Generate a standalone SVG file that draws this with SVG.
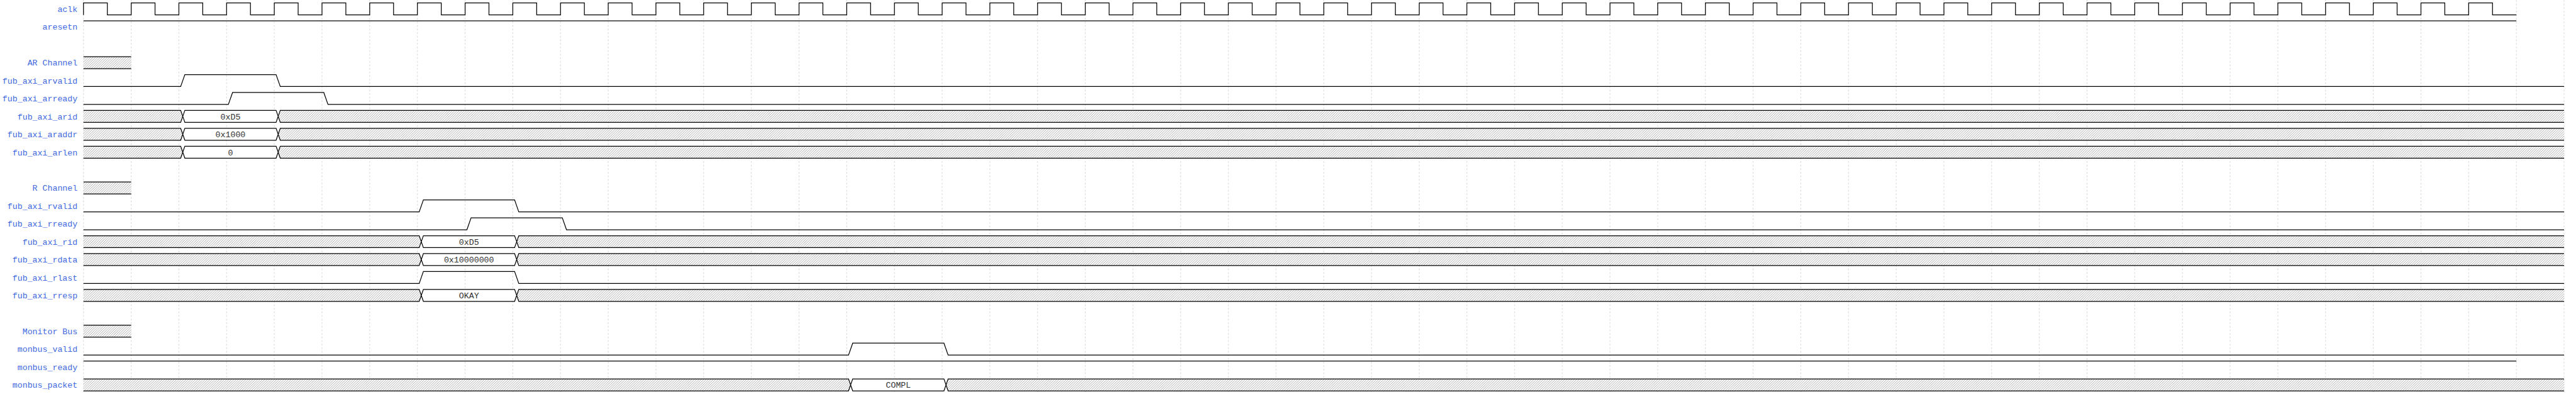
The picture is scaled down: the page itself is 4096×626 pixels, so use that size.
<svg xmlns="http://www.w3.org/2000/svg" width="4096" height="626" viewBox="0 0 4096 626">
<style>
.lbl{font-family:"Liberation Mono","DejaVu Sans Mono",monospace;font-size:14px;fill:#4169e1;text-anchor:end}
.dt{font-family:"Liberation Mono","DejaVu Sans Mono",monospace;font-size:14px;fill:#333;text-anchor:middle}
.w{fill:none;stroke:#000;stroke-width:1.3}
.h{fill:url(#hatch);stroke:none}
.d{fill:#fff;stroke:none}
.grid{fill:none;stroke:#d6d6d6;stroke-width:1;stroke-dasharray:3,3}
</style>
<defs>
<pattern id="hatch" width="4" height="4" patternUnits="userSpaceOnUse"><rect width="4" height="4" fill="#fff"/><path d="M-1,1l2,-2M0,4l4,-4M3,5l2,-2" stroke="#777" stroke-width="0.7"/></pattern>
</defs>
<rect width="4096" height="626" fill="#fff"/>
<g transform="scale(0.948148)">
<g id="connectors">
<path id="grid" class="grid" d="M140,0v660
m80,-660v660 m80,-660v660 m80,-660v660 m80,-660v660 m80,-660v660 m80,-660v660 m80,-660v660 m80,-660v660 m80,-660v660 m80,-660v660
m80,-660v660 m80,-660v660 m80,-660v660 m80,-660v660 m80,-660v660 m80,-660v660 m80,-660v660 m80,-660v660 m80,-660v660 m80,-660v660
m80,-660v660 m80,-660v660 m80,-660v660 m80,-660v660 m80,-660v660 m80,-660v660 m80,-660v660 m80,-660v660 m80,-660v660 m80,-660v660
m80,-660v660 m80,-660v660 m80,-660v660 m80,-660v660 m80,-660v660 m80,-660v660 m80,-660v660 m80,-660v660 m80,-660v660 m80,-660v660
m80,-660v660 m80,-660v660 m80,-660v660 m80,-660v660 m80,-660v660 m80,-660v660 m80,-660v660 m80,-660v660 m80,-660v660 m80,-660v660
m80,-660v660 m80,-660v660"/>
</g>
<g id="aclk">
<text class="lbl" x="130" y="20">aclk</text>
<path class="w" d="M140,25
v-20h40v20h40 v-20h40v20h40 v-20h40v20h40 v-20h40v20h40 v-20h40v20h40 v-20h40v20h40 v-20h40v20h40 v-20h40v20h40 v-20h40v20h40 v-20h40v20h40
v-20h40v20h40 v-20h40v20h40 v-20h40v20h40 v-20h40v20h40 v-20h40v20h40 v-20h40v20h40 v-20h40v20h40 v-20h40v20h40 v-20h40v20h40 v-20h40v20h40
v-20h40v20h40 v-20h40v20h40 v-20h40v20h40 v-20h40v20h40 v-20h40v20h40 v-20h40v20h40 v-20h40v20h40 v-20h40v20h40 v-20h40v20h40 v-20h40v20h40
v-20h40v20h40 v-20h40v20h40 v-20h40v20h40 v-20h40v20h40 v-20h40v20h40 v-20h40v20h40 v-20h40v20h40 v-20h40v20h40 v-20h40v20h40 v-20h40v20h40
v-20h40v20h40 v-20h40v20h40 v-20h40v20h40 v-20h40v20h40 v-20h40v20h40 v-20h40v20h40 v-20h40v20h40 v-20h40v20h40 v-20h40v20h40 v-20h40v20h40
v-20h40v20h40"/>
</g>
<g id="aresetn">
<text class="lbl" x="130" y="50">aresetn</text>
<path class="w" d="M140,35H4220"/>
</g>
<g id="ar_channel">
<text class="lbl" x="130" y="110">AR Channel</text>
<rect class="h" x="140" y="95" width="80" height="20"/>
<path class="w" d="M140,95H220M140,115H220"/>
</g>
<g id="fub_axi_arvalid">
<text class="lbl" x="130" y="140">fub_axi_arvalid</text>
<path class="w" d="M140,145H303L310,125H463L470,145H4300"/>
</g>
<g id="fub_axi_arready">
<text class="lbl" x="130" y="170">fub_axi_arready</text>
<path class="w" d="M140,175H383L390,155H543L550,175H4300"/>
</g>
<g id="fub_axi_arid">
<text class="lbl" x="130" y="200">fub_axi_arid</text>
<path class="h" d="M140,185H303L306.5,195L303,205H140Z"/>
<path class="h" d="M466.5,195L470,185H4300V205H470Z"/>
<path class="d" d="M306.5,195L310,185H463L466.5,195L463,205H310Z"/>
<path class="w" d="M140,185H303L310,205H463L470,185H4300M140,205H303L310,185H463L470,205H4300"/>
<text class="dt" x="386.5" y="200">0xD5</text>
</g>
<g id="fub_axi_araddr">
<text class="lbl" x="130" y="230">fub_axi_araddr</text>
<path class="h" d="M140,215H303L306.5,225L303,235H140Z"/>
<path class="h" d="M466.5,225L470,215H4300V235H470Z"/>
<path class="d" d="M306.5,225L310,215H463L466.5,225L463,235H310Z"/>
<path class="w" d="M140,215H303L310,235H463L470,215H4300M140,235H303L310,215H463L470,235H4300"/>
<text class="dt" x="386.5" y="230">0x1000</text>
</g>
<g id="fub_axi_arlen">
<text class="lbl" x="130" y="260">fub_axi_arlen</text>
<path class="h" d="M140,245H303L306.5,255L303,265H140Z"/>
<path class="h" d="M466.5,255L470,245H4300V265H470Z"/>
<path class="d" d="M306.5,255L310,245H463L466.5,255L463,265H310Z"/>
<path class="w" d="M140,245H303L310,265H463L470,245H4300M140,265H303L310,245H463L470,265H4300"/>
<text class="dt" x="386.5" y="260">0</text>
</g>
<g id="r_channel">
<text class="lbl" x="130" y="320">R Channel</text>
<rect class="h" x="140" y="305" width="80" height="20"/>
<path class="w" d="M140,305H220M140,325H220"/>
</g>
<g id="fub_axi_rvalid">
<text class="lbl" x="130" y="350">fub_axi_rvalid</text>
<path class="w" d="M140,355H703L710,335H863L870,355H4300"/>
</g>
<g id="fub_axi_rready">
<text class="lbl" x="130" y="380">fub_axi_rready</text>
<path class="w" d="M140,385H783L790,365H943L950,385H4300"/>
</g>
<g id="fub_axi_rid">
<text class="lbl" x="130" y="410">fub_axi_rid</text>
<path class="h" d="M140,395H703L706.5,405L703,415H140Z"/>
<path class="h" d="M866.5,405L870,395H4300V415H870Z"/>
<path class="d" d="M706.5,405L710,395H863L866.5,405L863,415H710Z"/>
<path class="w" d="M140,395H703L710,415H863L870,395H4300M140,415H703L710,395H863L870,415H4300"/>
<text class="dt" x="786.5" y="410">0xD5</text>
</g>
<g id="fub_axi_rdata">
<text class="lbl" x="130" y="440">fub_axi_rdata</text>
<path class="h" d="M140,425H703L706.5,435L703,445H140Z"/>
<path class="h" d="M866.5,435L870,425H4300V445H870Z"/>
<path class="d" d="M706.5,435L710,425H863L866.5,435L863,445H710Z"/>
<path class="w" d="M140,425H703L710,445H863L870,425H4300M140,445H703L710,425H863L870,445H4300"/>
<text class="dt" x="786.5" y="440">0x10000000</text>
</g>
<g id="fub_axi_rlast">
<text class="lbl" x="130" y="470">fub_axi_rlast</text>
<path class="w" d="M140,475H703L710,455H863L870,475H4300"/>
</g>
<g id="fub_axi_rresp">
<text class="lbl" x="130" y="500">fub_axi_rresp</text>
<path class="h" d="M140,485H703L706.5,495L703,505H140Z"/>
<path class="h" d="M866.5,495L870,485H4300V505H870Z"/>
<path class="d" d="M706.5,495L710,485H863L866.5,495L863,505H710Z"/>
<path class="w" d="M140,485H703L710,505H863L870,485H4300M140,505H703L710,485H863L870,505H4300"/>
<text class="dt" x="786.5" y="500">OKAY</text>
</g>
<g id="monitor_bus">
<text class="lbl" x="130" y="560">Monitor Bus</text>
<rect class="h" x="140" y="545" width="80" height="20"/>
<path class="w" d="M140,545H220M140,565H220"/>
</g>
<g id="monbus_valid">
<text class="lbl" x="130" y="590">monbus_valid</text>
<path class="w" d="M140,595H1423L1430,575H1583L1590,595H4300"/>
</g>
<g id="monbus_ready">
<text class="lbl" x="130" y="620">monbus_ready</text>
<path class="w" d="M140,605H4220"/>
</g>
<g id="monbus_packet">
<text class="lbl" x="130" y="650">monbus_packet</text>
<path class="h" d="M140,635H1423L1426.5,645L1423,655H140Z"/>
<path class="h" d="M1586.5,645L1590,635H4300V655H1590Z"/>
<path class="d" d="M1426.5,645L1430,635H1583L1586.5,645L1583,655H1430Z"/>
<path class="w" d="M140,635H1423L1430,655H1583L1590,635H4300M140,655H1423L1430,635H1583L1590,655H4300"/>
<text class="dt" x="1506.5" y="650">COMPL</text>
</g>
</g>
</svg>
